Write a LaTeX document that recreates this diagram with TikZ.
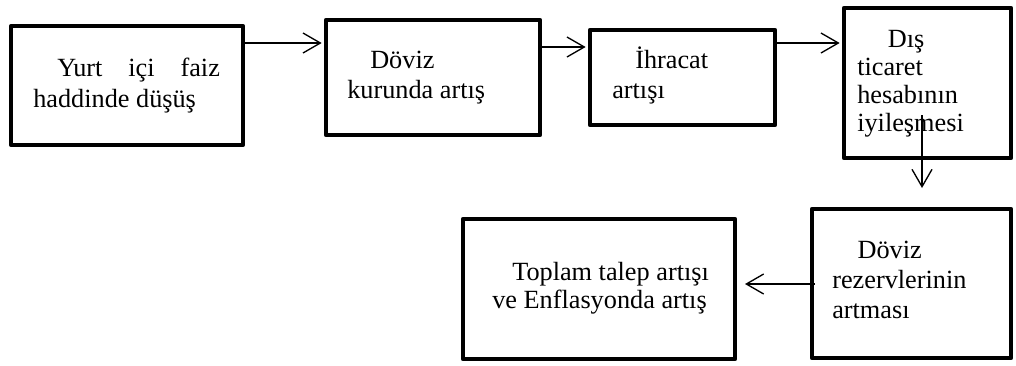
\documentclass[tikz,border=0pt]{standalone}
\usepackage{fontspec}
\setmainfont{Liberation Serif}
\usetikzlibrary{arrows.meta}
\begin{document}
\begin{tikzpicture}[x=0.75pt,y=-0.75pt,
  box/.style={draw, line width=3.3pt, rectangle, inner sep=0pt, line join=round},
  lbl/.style={anchor=base west, inner sep=0pt},
  arr/.style={line width=1pt, -{Straight Barb[length=13pt,width=15pt,line width=1pt]}}]
\useasboundingbox (0,0) rectangle (1016,365);
% boxes
\node[box, minimum width=173.6pt, minimum height=89.3pt] (b1) at (127,85.5) {};
\node[box, minimum width=160.5pt, minimum height=86.3pt] (b2) at (433,77.5) {};
\node[box, minimum width=138.8pt, minimum height=71.3pt] (b3) at (682.5,77.5) {};
\node[box, minimum width=125.3pt, minimum height=112.5pt] (b4) at (927.5,83) {};
\node[box, minimum width=149.3pt, minimum height=111.8pt] (b5) at (911.5,283.5) {};
\node[box, minimum width=204pt, minimum height=105pt] (b6) at (599,289) {};
% texts
\node[lbl] (t1) at (33,76) {\fontsize{19.7}{23.25}\selectfont\begin{tabular}[t]{@{}l@{}}\makebox[140pt][l]{\hspace{18pt}Yurt\hfill içi\hfill faiz}\\haddinde düşüş\end{tabular}};
\node[lbl] (t2) at (347,68) {\fontsize{19.7}{22.5}\selectfont\begin{tabular}[t]{@{}l@{}}\hspace{17.25pt}Döviz\\kurunda artış\end{tabular}};
\node[lbl] (t3) at (612,68) {\fontsize{19.7}{22.5}\selectfont\begin{tabular}[t]{@{}l@{}}\hspace{17.25pt}İhracat\\artışı\end{tabular}};
\node[lbl] (t4) at (857,47) {\fontsize{19.7}{21.2}\selectfont\begin{tabular}[t]{@{}l@{}}\hspace{23pt}Dış\\ticaret\\hesabının\\iyileşmesi\end{tabular}};
\node[lbl] (t5) at (832,258) {\fontsize{19.7}{22.5}\selectfont\begin{tabular}[t]{@{}l@{}}\hspace{19pt}Döviz\\rezervlerinin\\artması\end{tabular}};
\node[lbl] (t6) at (492,280) {\fontsize{19.7}{21}\selectfont\begin{tabular}[t]{@{}l@{}}\hspace{15pt}Toplam talep artışı\\ve Enflasyonda artış\end{tabular}};
% connectors
\coordinate (d0) at (922,115);
\coordinate (d1) at (922,188);
\coordinate (l0) at (815,284);
\coordinate (l1) at (745,284);
\draw[arr, shorten >=1.6pt] (b1.east |- 0,43) -- (b2.west |- 0,43);
\draw[arr, shorten >=1.6pt] (b2.east |- 0,47) -- (b3.west |- 0,47);
\draw[arr, shorten >=1.6pt] (b3.east |- 0,43) -- (b4.west |- 0,43);
\draw[arr] (d0) -- (d1);
\draw[arr] (l0) -- (l1);
\end{tikzpicture}
\end{document}
